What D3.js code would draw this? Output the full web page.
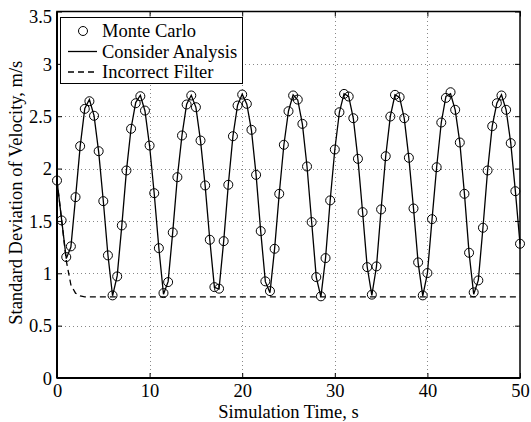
<!DOCTYPE html>
<html>
<head>
<meta charset="utf-8">
<script src="https://cdn.jsdelivr.net/npm/d3@7"></script>
<style>
  body { margin: 0; background: #fff; }
  svg text { font-family: "Liberation Serif", "Times New Roman", serif; fill: #000; }
</style>
</head>
<body>
<div id="chart"></div>
<script>
// sample times, s
const times = [
  0, 0.5, 1, 1.5, 2, 2.5, 3, 3.5, 4, 4.5, 5, 5.5, 6, 6.5, 7, 7.5, 8, 8.5, 9, 9.5,
  10, 10.5, 11, 11.5, 12, 12.5, 13, 13.5, 14, 14.5, 15, 15.5, 16, 16.5, 17, 17.5, 18, 18.5, 19, 19.5,
  20, 20.5, 21, 21.5, 22, 22.5, 23, 23.5, 24, 24.5, 25, 25.5, 26, 26.5, 27, 27.5, 28, 28.5, 29, 29.5,
  30, 30.5, 31, 31.5, 32, 32.5, 33, 33.5, 34, 34.5, 35, 35.5, 36, 36.5, 37, 37.5, 38, 38.5, 39, 39.5,
  40, 40.5, 41, 41.5, 42, 42.5, 43, 43.5, 44, 44.5, 45, 45.5, 46, 46.5, 47, 47.5, 48, 48.5, 49, 49.5,
  50
];

// Monte Carlo std dev (circles)
const monteCarlo = [
  1.886, 1.505, 1.155, 1.257, 1.727, 2.214, 2.570, 2.643, 2.504, 2.166,
  1.689, 1.171, 0.789, 0.970, 1.457, 1.982, 2.380, 2.624, 2.691, 2.554,
  2.220, 1.765, 1.240, 0.811, 0.916, 1.390, 1.918, 2.316, 2.612, 2.698,
  2.586, 2.268, 1.839, 1.320, 0.868, 0.853, 1.307, 1.845, 2.309, 2.602,
  2.707, 2.618, 2.370, 1.940, 1.403, 0.923, 0.830, 1.234, 1.759, 2.227,
  2.548, 2.698, 2.659, 2.427, 2.020, 1.489, 0.964, 0.780, 1.145, 1.696,
  2.182, 2.538, 2.713, 2.688, 2.481, 2.093, 1.584, 1.059, 0.796, 1.066,
  1.610, 2.118, 2.497, 2.704, 2.682, 2.481, 2.103, 1.619, 1.104, 0.789,
  1.002, 1.517, 2.013, 2.440, 2.675, 2.729, 2.561, 2.249, 1.759, 1.196,
  0.818, 0.932, 1.435, 1.982, 2.405, 2.624, 2.698, 2.561, 2.243, 1.784,
  1.282
];

// consider analysis std dev (solid line)
const consider = [
  1.886, 1.510, 1.140, 1.250, 1.720, 2.210, 2.575, 2.660, 2.505, 2.160,
  1.690, 1.175, 0.785, 0.975, 1.455, 1.980, 2.385, 2.630, 2.700, 2.550,
  2.215, 1.760, 1.240, 0.800, 0.920, 1.395, 1.920, 2.320, 2.615, 2.700,
  2.585, 2.265, 1.835, 1.320, 0.865, 0.850, 1.305, 1.845, 2.310, 2.605,
  2.710, 2.615, 2.365, 1.940, 1.400, 0.920, 0.815, 1.235, 1.760, 2.225,
  2.550, 2.705, 2.655, 2.425, 2.020, 1.490, 0.960, 0.775, 1.145, 1.695,
  2.180, 2.540, 2.715, 2.690, 2.480, 2.090, 1.585, 1.060, 0.790, 1.065,
  1.610, 2.120, 2.500, 2.705, 2.680, 2.480, 2.100, 1.620, 1.100, 0.785,
  1.000, 1.515, 2.015, 2.440, 2.690, 2.715, 2.560, 2.250, 1.760, 1.195,
  0.800, 0.935, 1.435, 1.980, 2.405, 2.625, 2.705, 2.560, 2.245, 1.785,
  1.282
];

// incorrect filter std dev (dashed line)
const filterTimes = [0, 0.5, 1, 1.5, 2, 2.5, 3, 50];
const filterValues = [1.886, 1.510, 1.120, 0.890, 0.810, 0.785, 0.775, 0.775];

const xTicks = [0, 10, 20, 30, 40, 50];
const yTicks = [0, 0.5, 1, 1.5, 2, 2.5, 3, 3.5];
const yTickLabels = ['0', '0.5', '1', '1.5', '2', '2.5', '3', '3.5'];

const legendItems = ['Monte Carlo', 'Consider Analysis', 'Incorrect Filter'];

const width = 531, height = 422;
const fontSize = 18.5;

const x = d3.scaleLinear().domain([0, 50]).range([57, 520]);
const y = d3.scaleLinear().domain([0, 3.5]).range([378, 11.5]);

const svg = d3.select('#chart').append('svg')
  .attr('width', width)
  .attr('height', height);

svg.append('rect').attr('width', width).attr('height', height).attr('fill', '#fff');

// grid
const grid = svg.append('g')
  .attr('stroke', '#888')
  .attr('stroke-width', 1)
  .attr('stroke-dasharray', '1,3');
grid.selectAll('line.gx')
  .data(xTicks.slice(1, -1))
  .join('line')
  .attr('class', 'gx')
  .attr('x1', (d) => Math.round(x(d)) + 0.5)
  .attr('x2', (d) => Math.round(x(d)) + 0.5)
  .attr('y1', y(0))
  .attr('y2', y(3.5));
grid.selectAll('line.gy')
  .data(yTicks.slice(1, -1))
  .join('line')
  .attr('class', 'gy')
  .attr('y1', (d) => Math.round(y(d)) + 0.5)
  .attr('y2', (d) => Math.round(y(d)) + 0.5)
  .attr('x1', x(0))
  .attr('x2', x(50));

// incorrect filter
svg.append('path')
  .datum(filterTimes.map((t, i) => [t, filterValues[i]]))
  .attr('fill', 'none')
  .attr('stroke', '#000')
  .attr('stroke-width', 1.3)
  .attr('stroke-dasharray', '6,4')
  .attr('d', d3.line().x((d) => x(d[0])).y((d) => y(d[1])));

// consider analysis
svg.append('path')
  .datum(times.map((t, i) => [t, consider[i]]))
  .attr('fill', 'none')
  .attr('stroke', '#000')
  .attr('stroke-width', 1.3)
  .attr('stroke-linejoin', 'miter')
  .attr('d', d3.line().x((d) => x(d[0])).y((d) => y(d[1])));

// monte carlo
svg.append('g')
  .selectAll('circle')
  .data(times.map((t, i) => [t, monteCarlo[i]]))
  .join('circle')
  .attr('cx', (d) => x(d[0]))
  .attr('cy', (d) => y(d[1]))
  .attr('r', 4.5)
  .attr('fill', 'none')
  .attr('stroke', '#000')
  .attr('stroke-width', 1);

// axes (ticks inward, MATLAB style)
function styleAxis(g) {
  g.selectAll('.tick line').attr('stroke', '#000').attr('stroke-width', 1);
  g.select('.domain').remove();
  g.selectAll('text').style('font-size', fontSize + 'px');
}

svg.append('g')
  .attr('transform', `translate(0,${y(0)})`)
  .call(d3.axisBottom(x).tickValues(xTicks).tickSize(-5).tickFormat(d3.format('d')))
  .call(styleAxis)
  .call((g) => g.selectAll('text').attr('dy', null).attr('y', 19));

svg.append('g')
  .attr('transform', `translate(0,${y(3.5)})`)
  .call(d3.axisTop(x).tickValues(xTicks).tickSize(-5).tickFormat(''))
  .call(styleAxis);

svg.append('g')
  .attr('transform', `translate(${x(0)},0)`)
  .call(d3.axisLeft(y).tickValues(yTicks).tickSize(-5).tickPadding(5)
    .tickFormat((d, i) => yTickLabels[i]))
  .call(styleAxis)
  .call((g) => g.selectAll('text')
    .attr('dy', (d) => (d === 3.5 ? '0.6em' : '0.34em')));

svg.append('g')
  .attr('transform', `translate(${x(50)},0)`)
  .call(d3.axisRight(y).tickValues(yTicks).tickSize(-5).tickFormat(''))
  .call(styleAxis);

// box
svg.append('rect')
  .attr('x', x(0))
  .attr('y', y(3.5))
  .attr('width', x(50) - x(0))
  .attr('height', y(0) - y(3.5))
  .attr('fill', 'none')
  .attr('stroke', '#000')
  .attr('stroke-width', 1.5);
svg.append('line')
  .attr('x1', x(0)).attr('x2', x(50))
  .attr('y1', y(0)).attr('y2', y(0))
  .attr('stroke', '#000').attr('stroke-width', 2);
svg.append('line')
  .attr('x1', x(0)).attr('x2', x(0))
  .attr('y1', y(0)).attr('y2', y(3.5))
  .attr('stroke', '#000').attr('stroke-width', 2);

// axis titles
svg.append('text')
  .attr('x', (x(0) + x(50)) / 2)
  .attr('y', 417.5)
  .attr('text-anchor', 'middle')
  .style('font-size', fontSize + 'px')
  .text('Simulation Time, s');

svg.append('text')
  .attr('transform', `translate(21.5,${(y(0) + y(3.5)) / 2 - 2}) rotate(-90)`)
  .attr('text-anchor', 'middle')
  .style('font-size', fontSize + 'px')
  .text('Standard Deviation of Velocity, m/s');

// legend
const legend = svg.append('g');
legend.append('rect')
  .attr('x', 60.5)
  .attr('y', 17.5)
  .attr('width', 182)
  .attr('height', 66)
  .attr('fill', '#fff')
  .attr('stroke', '#000')
  .attr('stroke-width', 1);

const rowY = [31, 51.5, 72];
legendItems.forEach((label, i) => {
  const row = legend.append('g').attr('transform', `translate(0,${rowY[i]})`);
  if (i === 0) {
    row.append('circle').attr('cx', 83).attr('cy', 0).attr('r', 4.5)
      .attr('fill', 'none').attr('stroke', '#000');
  } else {
    row.append('line').attr('x1', 68).attr('x2', 97).attr('y1', 0).attr('y2', 0)
      .attr('stroke', '#000').attr('stroke-width', 1.3)
      .attr('stroke-dasharray', i === 2 ? '6,4' : null);
  }
  row.append('text')
    .attr('x', 102)
    .attr('y', 6)
    .style('font-size', fontSize + 'px')
    .text(label);
});
</script>
</body>
</html>
